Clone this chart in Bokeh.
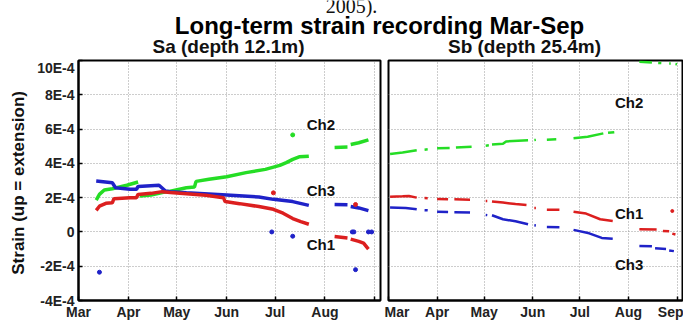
import numpy as np
import pandas as pd
from bokeh.plotting import figure
from bokeh.layouts import column, row
from bokeh.models import Range1d, FixedTicker
from bokeh.core.properties import value
from bokeh.embed import file_html
from bokeh.resources import INLINE

# ---------------- data (strain values in units of 1E-4, year 2005) ----------------
YEAR = "2005"
month_starts = ["03-01", "04-01", "05-01", "06-01", "07-01", "08-01", "09-01"]
month_labels = ["Mar", "Apr", "May", "Jun", "Jul", "Aug", "Sep"]
y_ticks = [-4, -2, 0, 2, 4, 6, 8, 10]
y_tick_labels = ["-4E-4", "-2E-4", "0", "2E-4", "4E-4", "6E-4", "8E-4", "10E-4"]

# Sa (depth 12.1m)
sa_ch1_dates = ["03-12", "03-14", "03-18", "03-22", "03-23", "04-02", "04-06", "04-07", "04-15", "04-22",
                "04-27", "05-07", "05-19", "05-30", "05-31", "06-09", "06-21", "06-30", "07-06", "07-12",
                "07-17", "07-22", None, "08-07", "08-15", None, "08-17", "08-22", "08-25", "08-28"]
sa_ch1_vals = [1.26, 1.5, 1.67, 1.7, 1.94, 2.0, 2.0, 2.19, 2.25, 2.35,
               2.3, 2.23, 2.14, 2.0, 1.77, 1.65, 1.48, 1.32, 1.09, 0.78,
               0.6, 0.45, None, -0.27, -0.35, None, -0.42, -0.55, -0.65, -1.0]

sa_ch2_dates = ["03-12", "03-14", "03-17", "03-22", "03-31", "04-07", None, "04-08", "04-15", "04-22",
                "04-27", "05-07", "05-12", "05-13", "05-21", "06-01", "06-13", "06-25", "07-04", "07-08",
                "07-12", "07-16", "07-22", None, "08-07", "08-15", None, "08-17", "08-22", "08-28"]
sa_ch2_vals = [1.86, 2.19, 2.45, 2.52, 2.72, 2.91, None, 2.1, 2.15, 2.3,
               2.38, 2.58, 2.62, 2.95, 3.07, 3.22, 3.46, 3.65, 3.88, 4.04,
               4.23, 4.38, 4.42, None, 4.93, 4.95, None, 5.1, 5.2, 5.37]

sa_ch3_dates = ["03-12", "03-22", "03-24", "04-02", "04-06", "04-07", "04-20", "04-24", "04-27", "05-07",
                "06-01", "06-21", "06-30", "07-12", "07-22", None, "08-07", "08-15", None, "08-17",
                "08-22", "08-28"]
sa_ch3_vals = [2.97, 2.87, 2.58, 2.49, 2.49, 2.65, 2.72, 2.39, 2.35, 2.29,
               2.16, 2.04, 1.9, 1.77, 1.55, None, 1.6, 1.58, None, 1.48,
               1.4, 1.24]

sa_out_ch1_dates = ["06-30", "08-20"]
sa_out_ch1_vals = [2.28, 1.6]
sa_out_ch2_dates = ["07-12"]
sa_out_ch2_vals = [5.66]
sa_out_ch3_dates = ["03-14", "06-29", "07-12", "08-18", "08-19", "08-20", "08-28", "08-30"]
sa_out_ch3_vals = [-2.35, 0.0, -0.25, 0.0, 0.0, -2.2, 0.0, 0.0]

# Sb (depth 25.4m)
sb_ch1_dates = ["03-02", "03-10", "03-14", "03-19", None, "03-24", "03-26", None, "04-01", "04-08", None,
                "04-12", "04-22", None, "05-02", "05-03", None, "05-06", "05-13", "05-21", "05-28", None,
                "06-02", "06-03", None, "06-10", "06-18", None, "06-27", "07-05", "07-14", "07-22", None,
                "08-08", "08-19", None, "08-23", "08-27", None, "08-29", "08-31"]
sb_ch1_vals = [2.05, 2.08, 2.1, 2.0, None, 1.98, 1.97, None, 1.92, 1.9, None,
               1.9, 1.88, None, 1.8, 1.8, None, 1.78, 1.71, 1.63, 1.57, None,
               1.4, 1.4, None, 1.3, 1.29, None, 1.18, 1.07, 0.74, 0.64, None,
               0.16, 0.14, None, 0.06, 0.04, None, -0.1, -0.15]

sb_ch2_dates = ["03-02", "03-10", "03-19", None, "03-24", "03-26", None, "04-01", "04-09", None,
                "04-13", "04-23", None, "05-02", "05-04", None, "05-06", "05-13", "05-15", "05-29", None,
                "06-02", "06-03", None, "06-10", "06-16", None, "06-27", "07-06", "07-16", None,
                "07-19", "07-23", None, "08-08", "08-16", None, "08-20", "08-22", None, "08-27", "08-28",
                None, "08-31", "09-01"]
sb_ch2_vals = [4.55, 4.63, 4.76, None, 4.8, 4.82, None, 4.88, 4.9, None,
               4.93, 4.97, None, 5.03, 5.05, None, 5.1, 5.14, 5.28, 5.35, None,
               5.36, 5.37, None, 5.38, 5.4, None, 5.47, 5.55, 5.75, None,
               5.78, 5.82, None, 9.92, 9.88, None, 9.86, 9.85, None, 9.82, 9.82,
               None, 9.8, 9.78]

sb_ch3_dates = ["03-02", "03-12", "03-19", None, "03-24", "03-26", None, "04-01", "04-08", None,
                "04-12", "04-22", None, "05-02", "05-03", None, "05-06", "05-13", "05-21", "05-29", None,
                "06-02", "06-03", None, "06-10", "06-18", None, "06-27", "07-07", "07-15", "07-22", None,
                "08-08", "08-16", None, "08-18", "08-25", None, "08-27", "08-30"]
sb_ch3_vals = [1.42, 1.4, 1.32, None, 1.27, 1.26, None, 1.17, 1.16, None,
               1.15, 1.13, None, 0.99, 0.98, None, 0.97, 0.74, 0.62, 0.45, None,
               0.39, 0.38, None, 0.29, 0.28, None, 0.12, -0.08, -0.35, -0.4, None,
               -0.82, -0.84, None, -0.95, -0.99, None, -1.08, -1.12]

sb_out_ch1_dates = ["08-29"]
sb_out_ch1_vals = [1.22]

# ---------------- helpers ----------------
ORIGIN = pd.Timestamp(f"{YEAR}-03-01")


def to_days(dates):
    return [np.nan if d is None else float((pd.Timestamp(f"{YEAR}-{d}") - ORIGIN).days) for d in dates]


def to_vals(vals):
    return [np.nan if v is None else float(v) for v in vals]


GREEN = "#25dd25"
RED = "#dc1f1f"
BLUE = "#1f22c8"
FONT = "Liberation Sans"

tick_days = [int(t) for t in to_days(month_starts)]
X_END = tick_days[-1] + 3.5


def make_panel(width, min_left, min_right, show_yaxis, show_last_month):
    p = figure(width=width, height=263, x_range=Range1d(0, X_END), y_range=Range1d(-4, 10),
               toolbar_location=None, output_backend="svg", title=None,
               min_border_left=min_left, min_border_right=min_right,
               min_border_top=1, min_border_bottom=0)
    xt = FixedTicker(ticks=tick_days)
    yt = FixedTicker(ticks=y_ticks)
    p.xaxis.ticker = xt
    p.xgrid.ticker = xt
    p.yaxis.ticker = yt
    p.ygrid.ticker = yt
    over = {t: l for t, l in zip(tick_days, month_labels)}
    if not show_last_month:
        over[tick_days[-1]] = ""
    p.xaxis.major_label_overrides = over
    p.yaxis.major_label_overrides = {t: l for t, l in zip(y_ticks, y_tick_labels)}
    for ax in (p.xaxis, p.yaxis):
        ax.axis_line_color = "black"
        ax.axis_line_width = 2
        ax.major_tick_line_color = "black"
        ax.major_tick_line_width = 1.5
        ax.major_tick_in = 4
        ax.major_tick_out = 0
        ax.minor_tick_line_color = None
        ax.major_label_text_font = FONT
        ax.major_label_text_font_style = "bold"
        ax.major_label_text_font_size = "14px"
        ax.major_label_text_color = "#222222"
    p.xaxis.major_label_standoff = 3
    p.yaxis.major_label_standoff = 4
    if show_yaxis:
        p.yaxis.axis_label = "Strain  (up = extension)"
        p.yaxis.axis_label_text_font = FONT
        p.yaxis.axis_label_text_font_style = "bold"
        p.yaxis.axis_label_text_font_size = "17px"
        p.yaxis.axis_label_text_color = "#111111"
        p.yaxis.axis_label_standoff = 6
    else:
        p.yaxis.visible = False
    p.grid.grid_line_color = "#9a9a9a"
    p.grid.grid_line_dash = "1 2"
    p.grid.grid_line_width = 1
    p.outline_line_color = "black"
    p.outline_line_width = 2
    p.outline_line_alpha = 1
    return p


def add_text(p, x, y, txt, size="15px"):
    p.text(x=[x], y=[y], text=[txt], text_align="center", text_baseline="middle",
           text_font=value(FONT), text_font_style="bold", text_font_size=size, text_color="#111111")


# ---------------- left panel (Sa) ----------------
left = make_panel(384, 78, 4, True, False)
for d, v, c in [(sa_ch2_dates, sa_ch2_vals, GREEN), (sa_ch3_dates, sa_ch3_vals, BLUE),
                (sa_ch1_dates, sa_ch1_vals, RED)]:
    left.line(to_days(d), to_vals(v), line_color=c, line_width=3.5)
for d, v, c in [(sa_out_ch1_dates, sa_out_ch1_vals, RED), (sa_out_ch2_dates, sa_out_ch2_vals, GREEN),
                (sa_out_ch3_dates, sa_out_ch3_vals, BLUE)]:
    left.scatter(to_days(d), to_vals(v), size=4, fill_color=c, line_color=c)
add_text(left, 150.5, 6.25, "Ch2")
add_text(left, 150.5, 2.4, "Ch3")
add_text(left, 150.5, -0.75, "Ch1")

# ---------------- right panel (Sb) ----------------
right = make_panel(299, 4, 1, False, True)
for d, v, c in [(sb_ch2_dates, sb_ch2_vals, GREEN), (sb_ch3_dates, sb_ch3_vals, BLUE),
                (sb_ch1_dates, sb_ch1_vals, RED)]:
    right.line(to_days(d), to_vals(v), line_color=c, line_width=2.5)
right.scatter(to_days(sb_out_ch1_dates), to_vals(sb_out_ch1_vals), size=3, fill_color=RED, line_color=RED)
add_text(right, 153.5, 7.55, "Ch2")
add_text(right, 153.5, 1.1, "Ch1")
add_text(right, 153.5, -1.9, "Ch3")

# ---------------- title strip ----------------
top = figure(width=683, height=59, x_range=Range1d(0, 683), y_range=Range1d(59, 0),
             toolbar_location=None, output_backend="svg", title=None, min_border=0)
top.axis.visible = False
top.grid.visible = False
top.outline_line_color = None
top.text(x=[351], y=[5], text=["2005)."], text_align="center", text_baseline="alphabetic",
         text_font=value("Liberation Serif"), text_font_size="20px", text_color="#111111")
top.text(x=[379], y=[25], text=["Long-term strain recording Mar-Sep"], text_align="center",
         text_baseline="alphabetic", text_font=value(FONT), text_font_style="bold",
         text_font_size="24px", text_color="#000000")
top.text(x=[228], y=[46], text=["Sa (depth 12.1m)"], text_align="center", text_baseline="alphabetic",
         text_font=value(FONT), text_font_style="bold", text_font_size="19px", text_color="#111111")
top.text(x=[524], y=[46], text=["Sb (depth 25.4m)"], text_align="center", text_baseline="alphabetic",
         text_font=value(FONT), text_font_style="bold", text_font_size="19px", text_color="#111111")

layout = column(top, row(left, right))
open("out.html", "w").write(file_html(layout, INLINE))
